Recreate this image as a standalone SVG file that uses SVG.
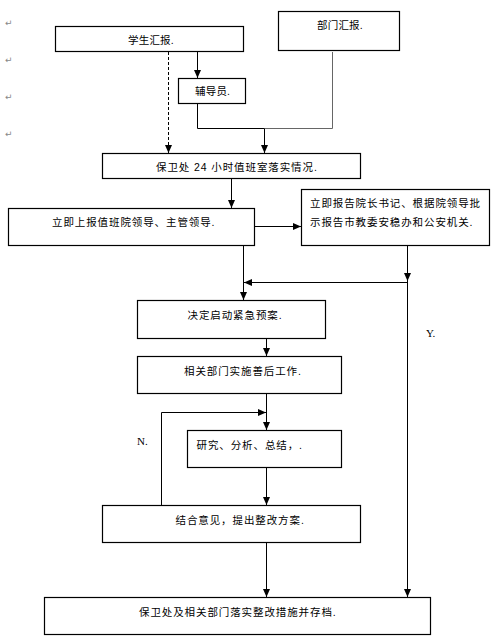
<svg xmlns="http://www.w3.org/2000/svg" width="498" height="640" viewBox="0 0 498 640">
<defs>
<style>
.box{fill:#fff;stroke:#000;stroke-width:1.2}
.t{font-family:"Liberation Sans","Noto Sans CJK SC",sans-serif;font-size:10.5px;fill:#000;letter-spacing:0.9px}
.ts{letter-spacing:0.2px}
.ln{fill:none;stroke:#000;stroke-width:1}
.gr{stroke:#666}
.yn{font-family:"Liberation Serif",serif;font-size:11px;fill:#000}
.pm{font-family:"DejaVu Sans",sans-serif;font-size:9px;fill:#888}
</style>
<marker id="ah" markerUnits="userSpaceOnUse" markerWidth="8" markerHeight="8" viewBox="0 0 8 8" refX="8" refY="4" orient="auto">
<path d="M0,0.5 L8,4 L0,7.5 Z" fill="#000"/>
</marker>
</defs>
<rect width="498" height="640" fill="#fff"/>
<g id="marks">
<text class="pm" x="5" y="26">↵</text>
<text class="pm" x="5" y="63">↵</text>
<text class="pm" x="5" y="100">↵</text>
<text class="pm" x="5" y="137">↵</text>
</g>
<g id="connectors">
<path class="ln" d="M168.5,52 V153" stroke-dasharray="3,2" marker-end="url(#ah)"/>
<path class="ln" d="M197.5,52 V78" marker-end="url(#ah)"/>
<path class="ln" d="M197.5,103 V128.5 H264"/>
<path class="ln gr" d="M264,128.5 H332.5 V52"/>
<path class="ln" d="M264.5,128.5 V153" marker-end="url(#ah)"/>
<path class="ln" d="M231.5,163 V208" marker-end="url(#ah)"/>
<path class="ln" d="M254,226.5 H301" marker-end="url(#ah)"/>
<path class="ln" d="M243.5,245 V300" marker-end="url(#ah)"/>
<path class="ln" d="M407.5,245 V281" marker-end="url(#ah)"/>
<path class="ln" d="M407.5,282.5 H244" marker-end="url(#ah)"/>
<path class="ln" d="M407.5,281 V597" marker-end="url(#ah)"/>
<path class="ln" d="M266.5,338 V356" marker-end="url(#ah)"/>
<path class="ln" d="M266.5,393 V430" marker-end="url(#ah)"/>
<path class="ln" d="M161.5,505 V412.5 H266" marker-end="url(#ah)"/>
<path class="ln" d="M266.5,467 V505" marker-end="url(#ah)"/>
<path class="ln" d="M266.5,542 V597" marker-end="url(#ah)"/>
<text class="yn" x="137" y="445">N.</text>
<text class="yn" x="426" y="337">Y.</text>
</g>
<g id="n1"><rect class="box" x="55.5" y="26.5" width="188" height="25"/><text class="t ts" x="128" y="43.5">学生汇报.</text></g>
<g id="n2"><rect class="box" x="278.5" y="11.5" width="121" height="39"/><text class="t ts" x="317" y="29">部门汇报.</text></g>
<g id="n3"><rect class="box" x="178.5" y="78.5" width="67" height="25"/><text class="t ts" x="195" y="95">辅导员.</text></g>
<g id="n4"><rect class="box" x="102.5" y="153.5" width="258" height="25"/><text class="t" x="156" y="170.5">保卫处 24 小时值班室落实情况.</text></g>
<g id="n5"><rect class="box" x="8.5" y="208.5" width="246" height="37"/><text class="t" x="52" y="225.5">立即上报值班院领导、主管领导.</text></g>
<g id="n6"><rect class="box" x="301.5" y="189.5" width="188" height="56"/><text class="t" x="310" y="207">立即报告院长书记、根据院领导批</text><text class="t" x="310" y="225.5">示报告市教委安稳办和公安机关.</text></g>
<g id="n7"><rect class="box" x="137.5" y="300.5" width="188" height="38"/><text class="t" x="187.5" y="319">决定启动紧急预案.</text></g>
<g id="n8"><rect class="box" x="137.5" y="356.5" width="204" height="37"/><text class="t" x="184" y="374.5">相关部门实施善后工作.</text></g>
<g id="n9"><rect class="box" x="187.5" y="430.5" width="154" height="37"/><text class="t" x="196.5" y="449">研究、分析、总结，.</text></g>
<g id="n10"><rect class="box" x="102.5" y="505.5" width="258" height="37"/><text class="t" x="175.5" y="524">结合意见，提出整改方案.</text></g>
<g id="n11"><rect class="box" x="44.5" y="597.5" width="386" height="37"/><text class="t" x="139" y="615.5">保卫处及相关部门落实整改措施并存档.</text></g>
</svg>
